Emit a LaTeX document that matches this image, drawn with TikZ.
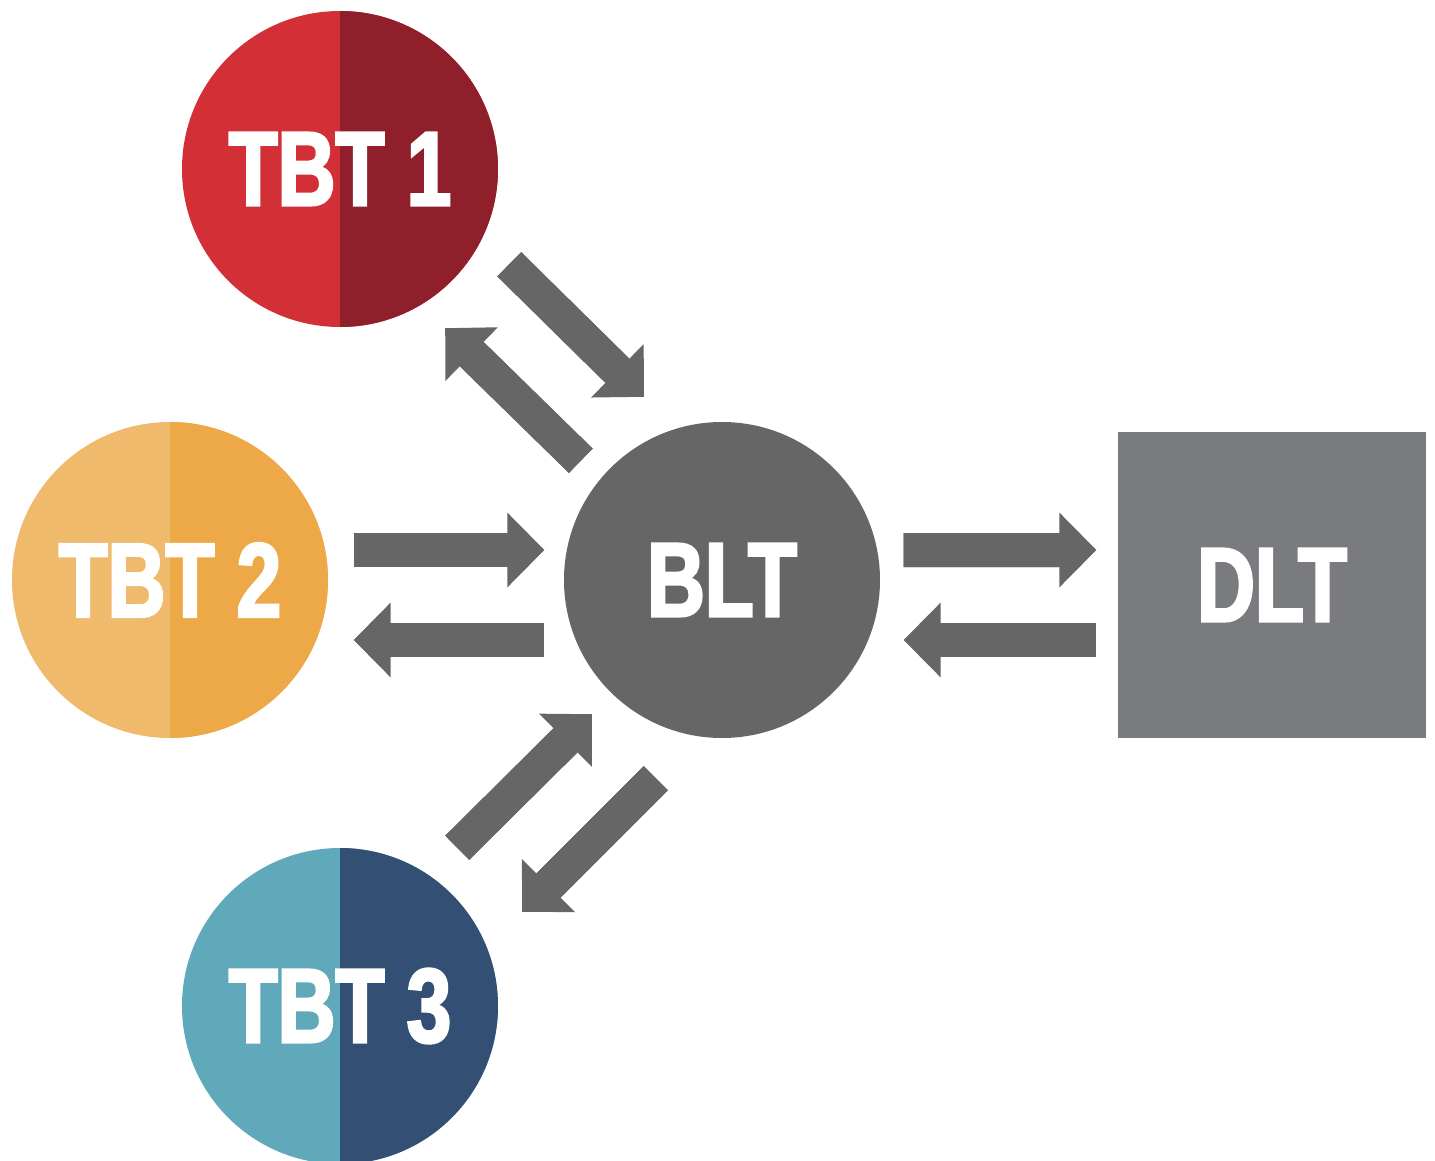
\documentclass[tikz,border=0pt]{standalone}
\usepackage{fontspec}
\usepackage{tikz}
\usetikzlibrary{arrows.meta}
\newfontfamily\lblfont[FakeStretch=0.76, FakeBold=2.5]{Liberation Sans}
\definecolor{tbtaleft}{HTML}{D22F37}
\definecolor{tbtaright}{HTML}{8F1F2B}
\definecolor{tbtbleft}{HTML}{F0BA6C}
\definecolor{tbtbright}{HTML}{EDA947}
\definecolor{tbtcleft}{HTML}{60A9BA}
\definecolor{tbtcright}{HTML}{334F74}
\colorlet{bltfill}{black!60}
\definecolor{dltfill}{HTML}{7A7B7E}
\colorlet{arrfill}{black!60}

\begin{document}
\begin{tikzpicture}[
      disc/.style={circle, inner sep=0pt, minimum size=3.16cm, text=white,
                   font=\lblfont\bfseries\fontsize{30}{36}\selectfont},
      half/.style 2 args={disc, fill=#1,
                   path picture={\fill[#2] (path picture bounding box.north)
                     rectangle (path picture bounding box.south east);}},
      sq/.style={inner sep=0pt, minimum width=3.08cm, minimum height=3.06cm,
                 fill=dltfill, text=white,
                 font=\lblfont\bfseries\fontsize{30}{36}\selectfont},
      % shaft is drawn a second time into the head so no seam shows
      arr/.style={draw=arrfill, line width=0.34cm,
                  -{Triangle[length=0.37cm, width=0.75cm, line width=0pt]},
                  postaction={draw=arrfill, line width=0.34cm, -, shorten >=0.25cm}}
    ]
    \fill[white] (-7.22,-5.80) rectangle (7.13,5.80);
    \useasboundingbox (-7.22,-5.80) rectangle (7.13,5.80);

    \node[disc, fill=bltfill] (blt) at (0,0) {BLT};
    \node[half={tbtaleft}{tbtaright}] (tbt1) at (-3.82,4.11) {TBT 1};
    \node[half={tbtbleft}{tbtbright}] (tbt2) at (-5.52,0) {TBT 2};
    \node[half={tbtcleft}{tbtcright}] (tbt3) at (-3.82,-4.26) {TBT 3};
    \node[sq] (dlt) at (5.50,-0.05) {DLT};

    % TBT 1 <-> BLT
    \draw[arr] ([shift={(0.57,0.17)}]tbt1.south east)
      -- ([shift={(0.34,0.71)}]blt.north west);
    \draw[arr] ([shift={(-0.29,0.07)}]blt.north west)
      -- ([shift={(-0.07,-0.47)}]tbt1.south east);

    % TBT 2 <-> BLT
    \draw[arr] ([shift={(0.25,0.30)}]tbt2.east) -- ([shift={(-0.19,0.30)}]blt.west);
    \draw[arr] ([shift={(-0.19,-0.60)}]blt.west) -- ([shift={(0.25,-0.60)}]tbt2.east);

    % TBT 3 <-> BLT
    \draw[arr] ([shift={(0.05,0.46)}]tbt3.north east)
      -- ([shift={(-0.18,-0.22)}]blt.south west);
    \draw[arr] ([shift={(0.46,-0.86)}]blt.south west)
      -- ([shift={(0.70,-0.18)}]tbt3.north east);

    % BLT <-> DLT
    \draw[arr] ([shift={(0.23,0.30)}]blt.east) -- ([shift={(-0.21,0.35)}]dlt.west);
    \draw[arr] ([shift={(-0.21,-0.55)}]dlt.west) -- ([shift={(0.23,-0.60)}]blt.east);
  \end{tikzpicture}
\end{document}
